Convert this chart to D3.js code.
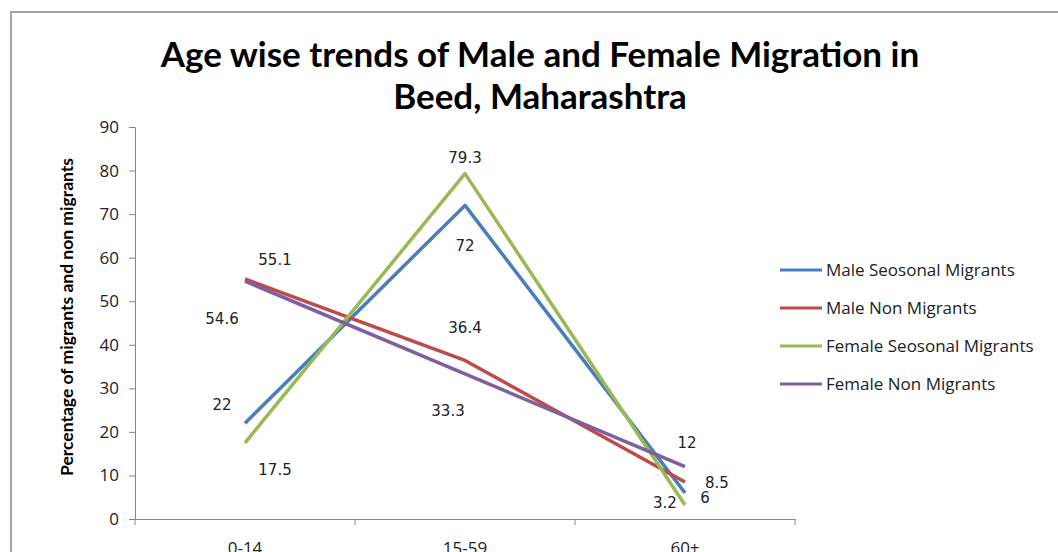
<!DOCTYPE html>
<html>
<head>
<meta charset="utf-8">
<script src="https://cdn.jsdelivr.net/npm/d3@7"></script>
<style>
  body { margin: 0; background: #fff; }
  svg { display: block; }
</style>
</head>
<body>
<script>
// chart data
var categories = ["0-14", "15-59", "60+"];
var maleSeasonal = [22, 72, 6];
var maleNon = [55.1, 36.4, 8.5];
var femaleSeasonal = [17.5, 79.3, 3.2];
var femaleNon = [54.6, 33.3, 12];
var seriesNames = ["Male Seosonal Migrants", "Male Non Migrants", "Female Seosonal Migrants", "Female Non Migrants"];
var yTicks = [0, 10, 20, 30, 40, 50, 60, 70, 80, 90];

var colors = ["#4a7ebb", "#be4b48", "#98b954", "#7d60a0"];
// where each value label sits relative to its point [dx, dy]
var labelOffsets = [
  [[-23, -18], [0, 40], [20, 5]],
  [[30, -19], [0, -33], [32, 1]],
  [[30, 27], [0, -16], [-20, -2]],
  [[-23, 38], [-17, 37], [2, -24]]
];

var W = 1058, H = 552;
var margin = {top: 127, left: 135, right: 263, bottom: 33};
var width = W - margin.left - margin.right,
    height = H - margin.top - margin.bottom;

var svg = d3.select("body").append("svg")
    .attr("width", W)
    .attr("height", H);

// outer frame
svg.append("rect")
    .attr("x", 11).attr("y", 12)
    .attr("width", W + 10).attr("height", H + 10)
    .attr("fill", "none")
    .attr("stroke", "#a6a6a6")
    .attr("stroke-width", 2);

svg.append("text")
    .attr("x", 540).attr("y", 67)
    .attr("text-anchor", "middle")
    .style("font-family", "Lato, sans-serif")
    .style("font-weight", "bold")
    .style("font-size", "35px")
    .text("Age wise trends of Male and Female Migration in");
svg.append("text")
    .attr("x", 540).attr("y", 109)
    .attr("text-anchor", "middle")
    .style("font-family", "Lato, sans-serif")
    .style("font-weight", "bold")
    .style("font-size", "35px")
    .text("Beed, Maharashtra");

var g = svg.append("g")
    .attr("transform", "translate(" + margin.left + "," + margin.top + ")");

var x = d3.scaleBand()
    .domain(categories)
    .range([0, width]);
var y = d3.scaleLinear()
    .domain([0, 90])
    .range([height, 0]);

var yAxis = g.append("g")
    .call(d3.axisLeft(y).tickValues(yTicks).tickSize(6).tickPadding(10));
yAxis.selectAll("text")
    .style("font-family", "'Open Sans', sans-serif")
    .style("font-size", "17px")
    .attr("fill", "#222");

var xAxis = g.append("g")
    .attr("transform", "translate(0," + height + ")")
    .call(d3.axisBottom(x).tickSize(0).tickPadding(23));
xAxis.selectAll("text")
    .style("font-family", "'Open Sans', sans-serif")
    .style("font-size", "17px")
    .attr("fill", "#222");
// boundary ticks between categories
xAxis.selectAll(".bound")
    .data(d3.range(categories.length + 1))
  .enter().append("line")
    .attr("class", "bound")
    .attr("x1", function(i) { return i * x.step(); })
    .attr("x2", function(i) { return i * x.step(); })
    .attr("y1", 0).attr("y2", 6)
    .attr("stroke", "#868686");

g.selectAll(".domain, .tick line").attr("stroke", "#868686");

svg.append("text")
    .attr("transform", "translate(73," + (margin.top + height / 2 - 6) + ") rotate(-90)")
    .attr("text-anchor", "middle")
    .style("font-family", "Lato, sans-serif")
    .style("font-weight", "bold")
    .style("font-size", "17.5px")
    .text("Percentage of migrants and non migrants");

var allSeries = [maleSeasonal, maleNon, femaleSeasonal, femaleNon];
var line = d3.line()
    .x(function(d, i) { return x(categories[i]) + x.bandwidth() / 2; })
    .y(function(d) { return y(d); });

g.selectAll(".series")
    .data(allSeries)
  .enter().append("path")
    .attr("class", "series")
    .attr("d", line)
    .attr("fill", "none")
    .attr("stroke", function(d, i) { return colors[i]; })
    .attr("stroke-width", 3.5)
    .attr("stroke-linejoin", "round");

allSeries.forEach(function(s, si) {
  g.selectAll(".lbl" + si)
      .data(s)
    .enter().append("text")
      .attr("x", function(d, i) { return x(categories[i]) + x.bandwidth() / 2 + labelOffsets[si][i][0]; })
      .attr("y", function(d, i) { return y(d) + labelOffsets[si][i][1]; })
      .attr("text-anchor", "middle")
      .attr("dy", "0.35em")
      .style("font-family", "'DejaVu Sans', sans-serif")
      .style("font-size", "15px")
      .attr("fill", "#222")
      .text(function(d) { return d; });
});

var legend = svg.append("g")
    .attr("transform", "translate(780,270)");
var item = legend.selectAll(".item")
    .data(seriesNames)
  .enter().append("g")
    .attr("transform", function(d, i) { return "translate(0," + i * 38 + ")"; });
item.append("line")
    .attr("x1", 0).attr("x2", 42)
    .attr("stroke", function(d, i) { return colors[i]; })
    .attr("stroke-width", 3);
item.append("text")
    .attr("x", 46)
    .attr("dy", "0.35em")
    .style("font-family", "'Open Sans', sans-serif")
    .style("font-size", "17px")
    .attr("fill", "#222")
    .text(function(d) { return d; });
</script>
</body>
</html>
